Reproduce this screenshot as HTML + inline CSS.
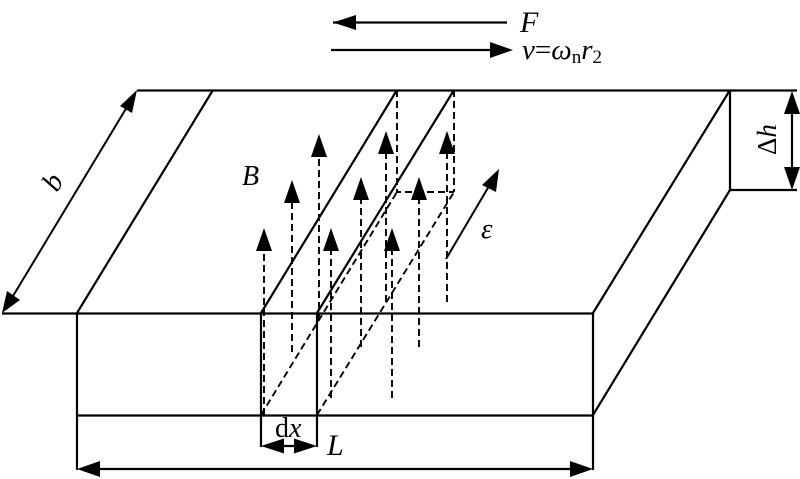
<!DOCTYPE html>
<html>
<head>
<meta charset="utf-8">
<style>
html,body{margin:0;padding:0;background:#fff;}
svg{display:block;}
text{font-family:"Liberation Serif",serif;fill:#000;}
.i{font-style:italic;}
</style>
</head>
<body>
<svg width="800" height="479" viewBox="0 0 800 479" xmlns="http://www.w3.org/2000/svg">
<g stroke="#000" stroke-width="2.2" fill="none">
<path d="M137 90.5H797M2 313.5H593M77 415.5H593M730 190H797"/>
<path d="M77 313V470M593 313V470M730 90V190M261 313V447M317 313V447"/>
<path d="M77 313L213 90M261 313L397 90M317 313L454 90M593 313L730 90M593 415L730 190"/>
<path d="M85 469H585M280 446H298M792 110V170M333 22.5H507M331 50H495"/>
<path d="M10 301L130 102M446 259L492 181" stroke-width="2"/>
</g>
<g stroke="#000" stroke-width="1.9" fill="none" stroke-dasharray="7 4">
<path d="M397 90V192H454M454 90V192M261 415L397 192M317 415L454 192"/>
<path d="M264 415V248M292 352V201M319 320V155M331 398V248M361 347V197M386 302V153M392 398V248M419 347V197M447 302V153"/>
</g>
<g fill="#000">
<path d="M264 228L256 251H272Z"/>
<path d="M292 180L284 203H300Z"/>
<path d="M319 134L311 157H327Z"/>
<path d="M331 228L323 251H339Z"/>
<path d="M361 177L353 200H369Z"/>
<path d="M386 131L378 154H394Z"/>
<path d="M392 228L384 251H400Z"/>
<path d="M419 177L411 200H427Z"/>
<path d="M447 131L439 154H455Z"/>
<path d="M499 169L482 185L496 192Z"/>
<path d="M137 90L120 106L132 113Z"/>
<path d="M2 313L20 300L7 291Z"/>
<path d="M333 22.500L356 15V30Z"/>
<path d="M513 50L490 42V58Z"/>
<path d="M792 91L784 114H800Z"/>
<path d="M792 190L784 167H800Z"/>
<path d="M77 469L100 461V477Z"/>
<path d="M593 469L570 461V477Z"/>
<path d="M261 446L284 438.500V453.500Z"/>
<path d="M317 446L294 438.500V453.500Z"/>
</g>
<text x="520" y="32" font-size="30" class="i">F</text>
<text x="522" y="59" font-size="29"><tspan class="i">v</tspan>=<tspan class="i">ω</tspan><tspan font-size="19" dy="4">n</tspan><tspan class="i" dy="-4">r</tspan><tspan font-size="19" dy="4">2</tspan></text>
<text x="242" y="185" font-size="28" class="i">B</text>
<text x="481" y="238" font-size="29" class="i">ε</text>
<text x="275" y="437" font-size="28">d<tspan class="i">x</tspan></text>
<text x="327" y="455" font-size="30" class="i">L</text>
<text transform="translate(57 193) rotate(-59)" font-size="29" class="i">b</text>
<text transform="translate(776 155) rotate(-90)" font-size="27">Δ<tspan class="i">h</tspan></text>
</svg>
</body>
</html>
